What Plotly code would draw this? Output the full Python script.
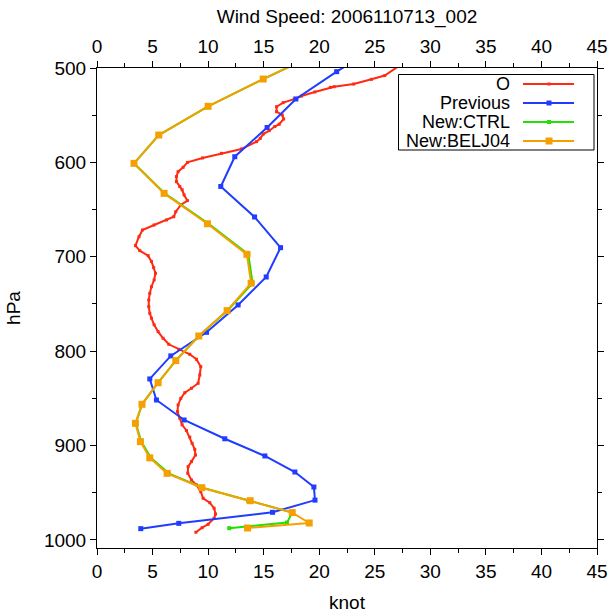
import plotly.graph_objects as go

# ---- data (knot, hPa) ----
obs_knot = [27.4, 25.9, 24.7, 23.1, 21.0, 21.35, 19.6, 18.4, 17.75, 16.76, 16.16, 16.16, 16.67, 16.8, 16.4, 16.0,
            15.5, 14.96, 14.7, 14.36, 13.0, 11.2, 9.5, 8.14, 7.75, 7.3, 7.15, 7.15, 7.45, 7.66, 7.84, 8.14,
            7.54, 7.09, 6.91, 6.25, 5.14, 4.09, 3.78, 3.46, 3.85, 4.6, 4.9, 5.1, 5.26, 5.14, 4.9, 4.75,
            4.66, 4.66, 4.75, 4.9, 5.14, 5.5, 5.95, 6.46, 7.36, 8.35, 8.95, 9.34, 9.25, 9.1, 8.5, 7.9,
            7.54, 7.3, 7.24, 7.45, 7.66, 8.05, 8.35, 8.56, 8.8, 8.86, 8.5, 8.2, 8.17, 8.5, 8.95, 9.34,
            9.55, 10.15, 10.54, 10.67, 10.54, 10.0, 9.46, 8.9]
obs_hpa = [496, 508, 512, 517, 520.5, 519.8, 525.4, 529.7, 533, 536.7, 541, 546.3, 549.8, 554, 559.6, 562,
           566.4, 570, 574.5, 578, 585.8, 590.4, 595.3, 600, 605.2, 609.8, 615, 620.4, 625.7, 629, 634.5, 640.5,
           645, 652.2, 657.5, 661, 666.3, 671.6, 678.7, 688.2, 693.5, 698.8, 705, 711.5, 717.5, 724.6, 731.7, 738.7,
           745.8, 752.8, 759.9, 765, 772, 779.3, 786.3, 792.7, 798, 803.3, 808.6, 816.4, 825.2, 834, 839.3, 844,
           850, 857, 864, 871, 878, 884, 891, 897.6, 904, 910, 917, 922.3, 929.3, 936.4, 941.7, 948.8,
           955.8, 960.5, 966.4, 972.5, 977, 983.4, 987, 991.8]

prev_knot = [24.8, 21.57, 17.9, 15.31, 12.4, 11.14, 14.18, 16.52, 15.23, 12.7, 9.86, 6.64, 4.75, 5.35, 7.84,
             11.5, 15.11, 17.81, 19.52, 19.62, 15.8, 7.36, 3.94]
prev_hpa = [480, 503.9, 532.8, 563, 594, 625.5, 657.8, 690.3, 721.4, 751, 780, 805, 829.4, 851.7, 872.9,
            892.8, 911, 928, 943.9, 957.8, 970.7, 982.4, 988]

ctrl_knot = [20.3, 14.96, 10.0, 5.56, 3.33, 6.1, 10.05, 13.62, 14.0, 11.75, 9.16, 7.09, 5.5, 4.05, 3.5,
             3.98, 4.85, 6.45, 9.5, 13.6, 17.57, 17.1, 11.9]
ctrl_hpa = [482, 511.7, 540.6, 571, 601, 632.8, 665, 697.4, 728, 757, 783.9, 810, 833.4, 856.3, 876.4,
            895.8, 913, 929.4, 944.6, 958.4, 971, 981.6, 987.5]

belj_knot = [20.3, 14.96, 10.0, 5.56, 3.33, 6.04, 9.94, 13.49, 13.87, 11.71, 9.16, 7.09, 5.5, 4.05, 3.46,
             3.91, 4.75, 6.31, 9.43, 13.79, 17.57, 19.1, 13.55]
belj_hpa = [482, 511.7, 540.6, 571, 601, 632.8, 665, 697.4, 728, 757, 783.9, 810, 833.4, 856.3, 876.4,
            895.8, 913, 929.4, 944.6, 958.4, 971, 982, 987.3]

names = ["O", "Previous", "New:CTRL", "New:BELJ04"]
colors = ["#ff2a12", "#1f3cff", "#22e000", "#f5a000"]
marker_sizes = [3, 5, 4, 7]

x_ticks = [0, 5, 10, 15, 20, 25, 30, 35, 40, 45]
y_ticks = [500, 600, 700, 800, 900, 1000]

FONT = "Liberation Sans, Arial, Helvetica, sans-serif"
FS = 19

W, H = 614, 616

fig = go.Figure()
series = [(obs_knot, obs_hpa), (prev_knot, prev_hpa), (ctrl_knot, ctrl_hpa), (belj_knot, belj_hpa)]
for (xs, ys), n, c, ms in zip(series, names, colors, marker_sizes):
    fig.add_trace(go.Scatter(x=xs, y=ys, mode="lines+markers", name=n,
                             line=dict(color=c, width=2),
                             marker=dict(color=c, size=ms, symbol="square"),
                             showlegend=False, hoverinfo="x+y+name"))

# invisible trace to activate the top axis
fig.add_trace(go.Scatter(x=[None], y=[None], xaxis="x2", yaxis="y", showlegend=False, hoverinfo="skip"))

axis_common = dict(showline=True, linecolor="black", linewidth=1, ticks="outside", ticklen=6,
                   tickcolor="black", showgrid=False, zeroline=False, automargin=False,
                   tickfont=dict(family=FONT, size=FS, color="black"))

fig.update_layout(
    width=W, height=H,
    margin=dict(l=97, r=17, t=68, b=68, autoexpand=False),
    paper_bgcolor="white", plot_bgcolor="white",
    font=dict(family=FONT, size=FS, color="black"),
    title=dict(text="Wind Speed: 2006110713_002", x=347 / W, xanchor="center", y=1 - 16 / H, yanchor="middle",
               font=dict(family=FONT, size=19, color="black"), automargin=False),
    xaxis=dict(range=[0, 45], tickvals=x_ticks, ticktext=[str(v) for v in x_ticks],
               minor=dict(dtick=2.5, ticklen=4, ticks="outside", tickcolor="black"),
               title=dict(text="knot", font=dict(family=FONT, size=FS), standoff=14),
               **axis_common),
    xaxis2=dict(range=[0, 45], overlaying="x", side="top", anchor="y", matches="x",
                tickvals=x_ticks, ticktext=[str(v) for v in x_ticks],
                minor=dict(dtick=2.5, ticklen=4, ticks="outside", tickcolor="black"),
                **axis_common),
    yaxis=dict(range=[1008.5, 500], tickvals=y_ticks, ticktext=[str(v) for v in y_ticks],
               minor=dict(tickvals=[550, 650, 750, 850, 950], ticklen=4, ticks="outside", tickcolor="black"),
               mirror="ticks",
               title=dict(text="hPa", font=dict(family=FONT, size=FS), standoff=18),
               **axis_common),
)

# custom legend (text on the left, line sample on the right); pixel -> paper coords
def px_to_paper_x(px):
    return (px - 97) / 500.0

def px_to_paper_y(py):
    return (548 - py) / 480.0

fig.add_shape(type="rect", xref="paper", yref="paper",
              x0=px_to_paper_x(398.5), x1=px_to_paper_x(594), y0=px_to_paper_y(150), y1=px_to_paper_y(74.5),
              line=dict(color="black", width=1), fillcolor="white", layer="above")
leg_rows = [84, 103, 122, 141]
for n, c, ms, ry in zip(names, colors, marker_sizes, leg_rows):
    fig.add_annotation(xref="paper", yref="paper", x=px_to_paper_x(512), y=px_to_paper_y(ry),
                       text=n, showarrow=False, xanchor="right", yanchor="middle",
                       font=dict(family=FONT, size=18, color="black"))
    fig.add_shape(type="line", xref="paper", yref="paper",
                  x0=px_to_paper_x(523), x1=px_to_paper_x(574), y0=px_to_paper_y(ry), y1=px_to_paper_y(ry),
                  line=dict(color=c, width=2), layer="above")
    h = ms / 2.0
    fig.add_shape(type="rect", xref="paper", yref="paper",
                  x0=px_to_paper_x(549 - h), x1=px_to_paper_x(549 + h),
                  y0=px_to_paper_y(ry + h), y1=px_to_paper_y(ry - h),
                  line=dict(color=c, width=0), fillcolor=c, layer="above")

# remove the page's default 8px body margin so the figure sits at the window's corner
fig.write_html("out.html", config={"displayModeBar": False},
               post_script="document.body.style.margin='0px';")
